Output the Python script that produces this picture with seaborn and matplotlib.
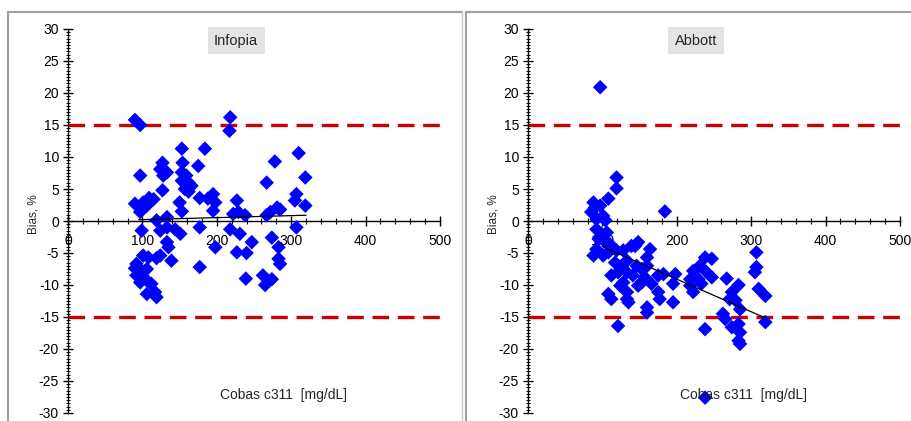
import numpy as np
import pandas as pd
import matplotlib
matplotlib.use("Agg")
import matplotlib.pyplot as plt
import seaborn as sns
from matplotlib.ticker import MultipleLocator
from matplotlib.lines import Line2D

# Infopia vs Cobas c311, bias in %
infopia_x = [90, 97, 218, 217, 153, 184, 310, 278, 127, 124, 133, 128, 154, 175, 97,
             319, 153, 159, 153, 162, 166, 157, 162, 127, 267, 195, 307, 109, 101, 90,
             177, 188, 198, 150, 227, 305, 319, 106, 97, 195, 281, 285, 272, 222, 229,
             238, 153, 267, 133, 119, 218, 177, 307, 99, 124, 133, 151, 231, 274, 133,
             247, 135, 198, 283, 227, 240, 101, 108, 119, 124, 139, 283, 285, 90, 99,
             177, 92, 101, 97, 106, 112, 239, 262, 274, 265, 106, 117, 119, 92, 106,
             115, 144]
infopia_y = [15.8, 15.0, 16.2, 14.1, 11.3, 11.3, 10.6, 9.3, 9.1, 8.1, 7.6, 7.1, 9.1, 8.6, 7.1,
             6.8, 7.6, 7.1, 6.3, 6.0, 5.5, 5.0, 4.6, 4.8, 6.0, 4.2, 4.2, 3.6, 2.9, 2.7,
             3.6, 3.5, 2.9, 2.9, 3.2, 3.2, 2.4, 2.4, 1.4, 1.6, 2.1, 1.8, 1.4, 1.1, 1.4,
             0.9, 1.5, 0.9, 0.6, 0.1, -1.3, -1.0, -1.0, -1.5, -1.5, -1.0, -2.0, -2.0, -2.6, -3.3,
             -3.3, -4.1, -4.1, -4.1, -4.9, -5.0, -5.4, -5.7, -5.8, -5.4, -6.2, -5.9, -6.7, -7.4, -7.8,
             -7.2, -8.5, -8.8, -9.6, -9.3, -9.8, -9.0, -8.5, -9.1, -10.0, -11.4, -11.1, -11.9, -6.7, -7.5,
             3.4, -1.3]

# Abbott vs Cobas c311, bias in %
abbott_x = [97, 119, 119, 108, 184, 88, 90, 97, 85, 101, 92, 104, 92, 99, 106,
            95, 104, 110, 92, 88, 101, 108, 119, 128, 139, 148, 144, 164, 160, 117,
            126, 133, 146, 153, 160, 175, 182, 198, 112, 121, 133, 141, 157, 128, 153,
            166, 148, 124, 195, 133, 108, 112, 133, 135, 175, 177, 195, 160, 160, 121,
            218, 222, 229, 222, 231, 238, 247, 247, 240, 233, 267, 283, 274, 271, 279,
            285, 262, 265, 274, 283, 285, 283, 285, 238, 307, 307, 305, 310, 319, 319,
            238, 218]
abbott_y = [20.9, 6.8, 5.1, 3.5, 1.5, 2.9, 2.1, 2.4, 1.4, 0.8, 0.3, 0.1, -1.3, -2.0, -1.8,
            -2.8, -3.3, -3.6, -4.4, -5.4, -5.4, -4.9, -4.6, -4.6, -3.9, -3.3, -3.9, -4.4, -5.7, -6.5,
            -7.0, -6.2, -7.0, -7.5, -7.0, -8.5, -8.3, -8.3, -8.5, -8.0, -8.0, -8.5, -8.8, -9.6, -9.6,
            -9.8, -10.1, -10.1, -9.8, -11.1, -11.4, -12.2, -12.2, -12.7, -11.1, -12.2, -12.7, -13.5, -14.3, -16.4,
            -10.1, -11.1, -9.1, -7.8, -7.0, -5.7, -5.9, -8.8, -8.0, -9.8, -9.0, -10.0, -11.1, -12.2, -12.4,
            -13.8, -14.5, -15.3, -16.6, -16.1, -17.4, -18.7, -19.2, -16.9, -4.9, -7.2, -8.0, -10.6, -11.7, -15.8,
            -27.6, -9.1]

# trend lines (end points)
trend_x = {"Infopia": [95, 320], "Abbott": [100, 320]}
trend_y = {"Infopia": [0.2, 0.9], "Abbott": [-4.0, -15.2]}
limit = 15

df = pd.concat([
    pd.DataFrame({"cobas": infopia_x, "bias": infopia_y, "meter": "Infopia"}),
    pd.DataFrame({"cobas": abbott_x, "bias": abbott_y, "meter": "Abbott"}),
])

sns.set_style("white")
plt.rcParams["font.family"] = ["Liberation Sans", "DejaVu Sans"]
plt.rcParams["axes.unicode_minus"] = False

fig = plt.figure(figsize=(9.12, 4.21), dpi=100)

# grey panel frames
W, H = 912, 421
for x0, x1 in [(8, 462), (466, 915)]:
    fig.add_artist(Line2D([x0 / W, x1 / W], [1 - 12 / H, 1 - 12 / H], color="#a0a0a0", lw=1.5))
    fig.add_artist(Line2D([x0 / W, x0 / W], [0, 1 - 12 / H], color="#a0a0a0", lw=1.5))
fig.add_artist(Line2D([462 / W, 462 / W], [0, 1 - 12 / H], color="#c8c8c8", lw=1.0))

panels = [("Infopia", 68), ("Abbott", 528)]
for meter, left_px in panels:
    ax = fig.add_axes([left_px / W, 1 - 413 / H, 372 / W, 384 / H])
    sub = df[df.meter == meter]
    ax.axhline(limit, color="#cc0000", lw=2.4, dashes=(5, 2.6), zorder=1)
    ax.axhline(-limit, color="#cc0000", lw=2.4, dashes=(5, 2.6), zorder=1)
    sns.scatterplot(data=sub, x="cobas", y="bias", marker="D", color="#0000ff",
                    edgecolor="none", s=55, ax=ax, zorder=3, legend=False)
    ax.plot(trend_x[meter], trend_y[meter], color="black", lw=0.9, zorder=4)

    ax.set_xlim(0, 500)
    ax.set_ylim(-30, 30)
    for side in ["top", "right"]:
        ax.spines[side].set_visible(False)
    ax.spines["left"].set_position(("data", 0))
    ax.spines["bottom"].set_position(("data", 0))
    for side in ["left", "bottom"]:
        ax.spines[side].set_color("black")
        ax.spines[side].set_linewidth(1.0)
        ax.spines[side].set_zorder(2)
    ax.xaxis.set_major_locator(MultipleLocator(100))
    ax.xaxis.set_minor_locator(MultipleLocator(20))
    ax.yaxis.set_major_locator(MultipleLocator(5))
    ax.yaxis.set_minor_locator(MultipleLocator(0.5))
    ax.tick_params(which="both", left=True, bottom=True)
    ax.tick_params(which="major", direction="inout", length=7, width=1, color="black",
                   labelsize=10, labelcolor="black")
    ax.tick_params(which="minor", direction="inout", length=4, width=0.8, color="black")
    ax.tick_params(axis="y", which="minor", length=3.5, width=0.7)
    ax.tick_params(axis="x", which="major", pad=6)
    ax.tick_params(axis="y", which="major", pad=3)
    ax.set_xticks([0, 100, 200, 300, 400, 500])
    ax.set_xticklabels(["0", "100", "200", "300", "400", "500"])
    ax.set_xlabel("")
    ax.set_ylabel("")
    ax.patch.set_alpha(0)

    ax.text(-47, 1, "Bias, %", rotation=90, fontsize=8.5, ha="center", va="center")
    ax.text(290, -27.2, "Cobas c311  [mg/dL]", fontsize=10, ha="center", va="center")
    ax.text(226, 28.2, meter, fontsize=10.5, ha="center", va="center",
            bbox=dict(boxstyle="square,pad=0.45", fc="#e4e4e4", ec="none"))

fig.savefig("out.png", dpi=100)
